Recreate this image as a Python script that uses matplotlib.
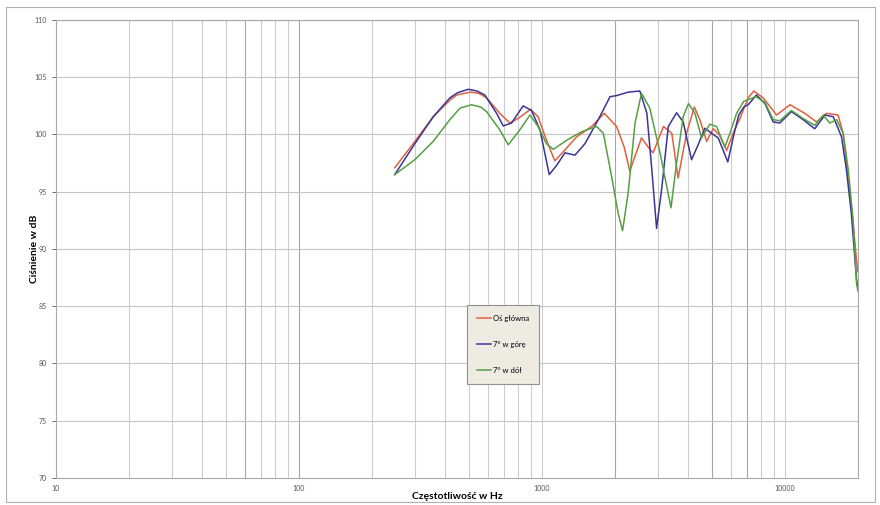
import numpy as np
import matplotlib.pyplot as plt
from matplotlib.patches import Rectangle

# (Hz, dB)
freq_main = [248, 300, 357, 418, 446, 506, 550, 592, 671, 738, 798, 898, 964, 1044, 1130,
             1225, 1390, 1602, 1806, 2029, 2181, 2300, 2570, 2738, 2868, 3165, 3425, 3636,
             3938, 4240, 4467, 4764, 5070, 5381, 5757, 6163, 6531, 7063, 7450, 8142,
             9245, 10500, 12080, 13490, 14830, 16560, 17380, 18240, 19100, 19730, 20000]
spl_main = [97.1, 99.4, 101.55, 103.0, 103.45, 103.7, 103.6, 103.2, 101.85, 101.0, 101.4,
            102.2, 101.55, 99.5, 97.7, 98.5, 99.8, 100.7, 101.85, 100.7, 98.9, 96.8, 99.7,
            98.9, 98.4, 100.7, 100.1, 96.2, 100.1, 102.4, 101.3, 99.4, 100.5, 99.96, 98.6,
            100.25, 101.4, 103.2, 103.8, 103.2, 101.7, 102.6, 101.85, 101.1, 101.85, 101.7,
            100.1, 96.0, 92.2, 89.0, 88.0]

freq_up = [248, 300, 357, 418, 450, 498, 540, 582, 651, 693, 750, 837, 906, 982, 1072, 1149,
           1244, 1368, 1504, 1706, 1907, 2030, 2265, 2530, 2704, 2827, 2965, 3110, 3313, 3583,
           3815, 4130, 4395, 4688, 4993, 5317, 5823, 6163, 6460, 6773, 7063, 7640, 8280,
           8950, 9530, 10640, 11880, 13270, 14620, 15820, 17110, 17930, 18780, 19730, 20000]
spl_up = [96.5, 99.2, 101.55, 103.2, 103.65, 103.95, 103.8, 103.45, 101.85, 100.75, 101.0,
          102.5, 102.1, 100.4, 96.5, 97.3, 98.4, 98.2, 99.2, 101.3, 103.3, 103.4, 103.7,
          103.8, 101.85, 97.2, 91.8, 95.2, 100.7, 101.9, 101.1, 97.8, 99.1, 100.55, 100.1,
          99.7, 97.6, 99.96, 101.7, 102.4, 102.6, 103.45, 102.7, 101.1, 101.0, 102.0,
          101.3, 100.5, 101.7, 101.55, 99.8, 96.9, 93.1, 87.3, 86.5]

freq_down = [248, 300, 357, 418, 460, 513, 560, 592, 671, 727, 811, 893, 964, 1044, 1115,
             1265, 1459, 1680, 1790, 1937, 2061, 2148, 2265, 2417, 2570, 2781, 3063, 3398,
             3583, 3815, 4011, 4266, 4541, 4914, 5232, 5662, 5939, 6329, 6773, 7600, 8280,
             8950, 9530, 10640, 11880, 13270, 14380, 15300, 16330, 17380, 18240, 19100,
             19730, 20000]
spl_down = [96.5, 97.8, 99.4, 101.3, 102.3, 102.6, 102.4, 102.0, 100.4, 99.1, 100.4, 101.7,
            100.7, 99.2, 98.7, 99.5, 100.25, 100.7, 100.1, 96.3, 93.1, 91.6, 94.9, 101.0,
            103.6, 102.3, 98.4, 93.6, 97.5, 101.55, 102.7, 101.85, 99.7, 100.9, 100.7, 98.9,
            100.1, 101.85, 102.9, 103.3, 102.8, 101.3, 101.2, 102.1, 101.4, 100.8, 101.7,
            101.0, 101.3, 100.1, 96.9, 92.5, 87.0, 86.3]

series = [("Oś główna", freq_main, spl_main, "#e0603f"),
          ("7° w górę", freq_up, spl_up, "#3b3597"),
          ("7° w dół", freq_down, spl_down, "#55a043")]

plt.rcParams['font.family'] = ['Lato', 'DejaVu Sans']

fig = plt.figure(figsize=(8.8, 5.05), dpi=100)
ax = fig.add_axes([56/880, 1 - 478/505, (858 - 56)/880, (478 - 20)/505])

# siatka
minor_f = [m * 10**d for d in range(1, 5) for m in range(2, 10) if m * 10**d < 20000]
dark_f = [60, 100, 2000, 5000, 7000]
for f in minor_f + [100, 1000, 10000]:
    c = "#a6a6a6" if f in dark_f else "#cdcdcd"
    ax.axvline(f, color=c, lw=0.8, zorder=0)
for v in range(75, 111, 5):
    ax.axhline(v, color="#c4c4c4", lw=0.8 if v < 110 else 1.6, zorder=0)

for label, f, s, col in series:
    ax.plot(f, s, color=col, lw=1.1, label=label, zorder=3)

ax.set_xscale("log")
ax.set_xlim(10, 20000)
ax.set_ylim(70, 110)
ax.set_xticks([10, 100, 1000, 10000])
ax.set_xticklabels(["10", "100", "1000", "10000"])
ax.xaxis.set_minor_locator(plt.NullLocator())
ax.set_yticks(range(70, 111, 5))
ax.tick_params(axis="both", labelsize=5, colors="#555555", length=3, width=0.6)
ax.tick_params(axis="x", length=0, pad=5)
for sp in ax.spines.values():
    sp.set_color("#a8a8a8")
    sp.set_linewidth(0.8)

ax.set_xlabel("Częstotliwość w Hz", fontsize=7.5, fontweight="bold", labelpad=0)
ax.set_ylabel("Ciśnienie w dB", fontsize=7.5, fontweight="bold", labelpad=-3)

leg = ax.legend(loc="upper left", bbox_to_anchor=((467 - 56)/802, 1 - (305 - 20)/458),
                borderaxespad=0, fontsize=5.5, frameon=True, fancybox=False,
                handlelength=1.8, labelspacing=2.5, borderpad=1.3, handletextpad=0.3)
leg.get_frame().set_facecolor("#eeebe3")
leg.get_frame().set_edgecolor("#909090")
leg.get_frame().set_linewidth(0.8)
leg.get_frame().set_alpha(1)

fig.patches.append(Rectangle((6/880, 3/505), 869/880, 495/505, transform=fig.transFigure,
                             fill=False, edgecolor="#b0b0b0", lw=0.8))

fig.savefig("out.png", dpi=100)
